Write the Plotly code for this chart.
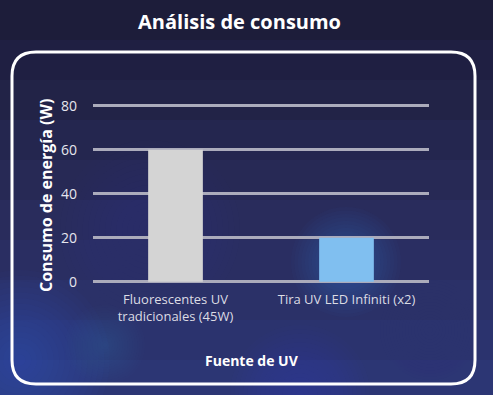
import plotly.graph_objects as go

# Energy use of each UV light source (watts)
categories = ["Fluorescentes UV<br>tradicionales (45W)", "Tira UV LED Infiniti (x2)"]
consumo_w = [60, 20]
bar_colors = ["#d4d4d4", "#80bff0"]
y_ticks = [0, 20, 40, 60, 80]

W, H = 493, 395
L, R, T, B = 93, 64, 102, 111
PW, PH = W - L - R, H - T - B


def px(x):
    return (x - L) / PW


def py(y):
    return 1 - (y - T) / PH


shapes = []

# background: vertical gradient bands
bands = [
    (0, 40, "#1d1d3a"),
    (40, 80, "#1f1f42"),
    (80, 120, "#222347"),
    (120, 160, "#24264f"),
    (160, 200, "#272955"),
    (200, 240, "#292c5c"),
    (240, 280, "#2a2e62"),
    (280, 320, "#2b3168"),
    (320, 360, "#2b336e"),
    (360, 395, "#2c3674"),
]
for y0, y1, c in bands:
    shapes.append(dict(type="rect", xref="paper", yref="paper", layer="below",
                       x0=px(0), x1=px(W), y0=py(y1), y1=py(y0),
                       fillcolor=c, line=dict(width=0)))


def glow(cx, cy, rad, color, steps=16, alpha=0.025):
    for i in range(steps):
        r = rad * (1 - i / steps)
        shapes.append(dict(type="circle", xref="paper", yref="paper", layer="below",
                           x0=px(cx - r), x1=px(cx + r), y0=py(cy + r), y1=py(cy - r),
                           fillcolor=color, opacity=alpha, line=dict(width=0)))


glow(20, 360, 90, "#4a6ad0", alpha=0.03)
glow(150, 230, 90, "#3c4aa0", alpha=0.02)
glow(346, 262, 55, "#3f7fd0", alpha=0.03)
glow(300, 395, 70, "#4a6ac0", alpha=0.025)
glow(105, 345, 40, "#6a7ab0", alpha=0.025)
glow(430, 330, 50, "#3a4a90", alpha=0.02)

# rounded white frame
x0, x1, y0, y1, r = 12, 475, 52, 384, 24
path = (
    f"M {px(x0 + r)},{py(y0)} L {px(x1 - r)},{py(y0)} "
    f"Q {px(x1)},{py(y0)} {px(x1)},{py(y0 + r)} "
    f"L {px(x1)},{py(y1 - r)} Q {px(x1)},{py(y1)} {px(x1 - r)},{py(y1)} "
    f"L {px(x0 + r)},{py(y1)} Q {px(x0)},{py(y1)} {px(x0)},{py(y1 - r)} "
    f"L {px(x0)},{py(y0 + r)} Q {px(x0)},{py(y0)} {px(x0 + r)},{py(y0)} Z"
)
shapes.append(dict(type="path", xref="paper", yref="paper", layer="above",
                   path=path, line=dict(color="white", width=3)))

fig = go.Figure(go.Bar(
    x=[0, 1], y=consumo_w, marker=dict(color=bar_colors, line=dict(width=0)),
    width=0.32, hoverinfo="skip",
))

font = "Open Sans, sans-serif"
fig.update_layout(
    width=W, height=H, autosize=False,
    margin=dict(l=L, r=R, t=T, b=B),
    paper_bgcolor="#23244c", plot_bgcolor="rgba(0,0,0,0)",
    showlegend=False,
    font=dict(family=font, color="#e2e2e8"),
    shapes=shapes,
    xaxis=dict(range=[-0.4825, 1.4825], tickvals=[0, 1], ticktext=categories,
               showgrid=False, zeroline=False, showline=False, ticks="",
               tickfont=dict(size=13, color="#dcdce4"), ticklabelstandoff=6),
    yaxis=dict(range=[-1, 81.7], tickvals=y_ticks, showgrid=True,
               gridcolor="#ababbb", gridwidth=3, zeroline=False, showline=False,
               ticks="", tickfont=dict(size=14, color="#e6e6ee"), ticklabelstandoff=15),
    annotations=[
        dict(text="<b>Análisis de consumo</b>", xref="paper", yref="paper",
             x=px(239), y=py(21), showarrow=False, xanchor="center", yanchor="middle",
             font=dict(size=20, color="white", family=font)),
        dict(text="<b>Consumo de energía (W)</b>", xref="paper", yref="paper",
             x=px(46), y=py(196), showarrow=False, textangle=-90,
             xanchor="center", yanchor="middle",
             font=dict(size=16, color="white", family=font)),
        dict(text="<b>Fuente de UV</b>", xref="paper", yref="paper",
             x=px(252), y=py(360), showarrow=False, xanchor="center", yanchor="middle",
             font=dict(size=14, color="white", family=font)),
    ],
)

fig.write_html("out.html")
